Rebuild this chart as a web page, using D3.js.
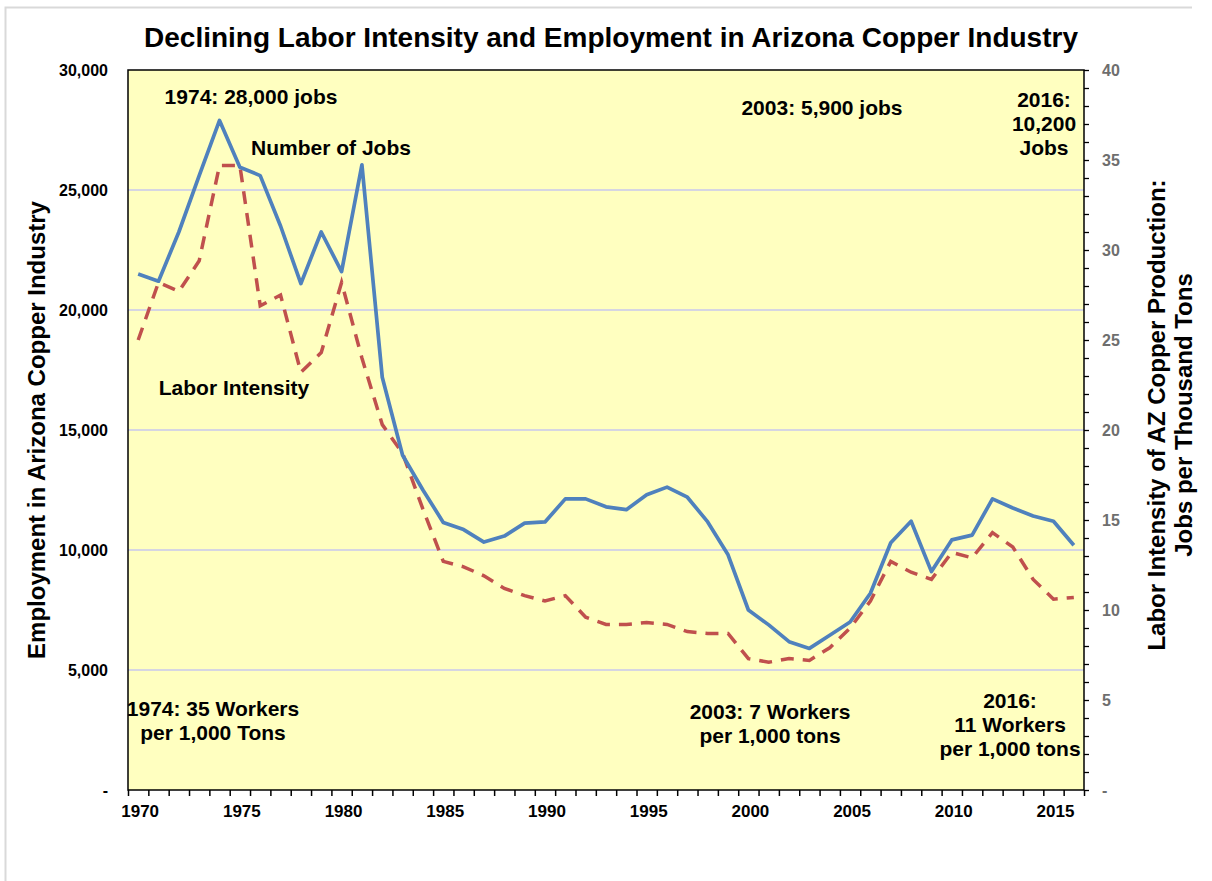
<!DOCTYPE html>
<html>
<head>
<meta charset="utf-8">
<script src="https://cdn.jsdelivr.net/npm/d3@7"></script>
<style>
  body { margin: 0; background: #fff; }
  svg { display: block; font-family: "Liberation Sans", Arial, sans-serif; }
</style>
</head>
<body>
<div class="holder"></div>
<script>
// years 1970..2016
var years = d3.range(1970, 2017)

// number of jobs (left axis)
var jobs = [21500, 21200, 23250, 25600, 27900, 25950, 25600, 23500, 21100, 23250,
  21600, 26050, 17200, 13950, 12500, 11150, 10850, 10330, 10580, 11120,
  11170, 12130, 12130, 11800, 11680, 12300, 12620, 12200, 11170, 9800,
  7500, 6880, 6180, 5900, 6450, 7000, 8200, 10300, 11200, 9100,
  10420, 10620, 12130, 11750, 11420, 11200, 10200]

// labor intensity, jobs per thousand tons (right axis)
var intensity = [25.0, 28.2, 27.7, 29.4, 34.7, 34.7, 26.9, 27.5, 23.2, 24.3,
  28.2, 24.0, 20.3, 18.7, 15.6, 12.7, 12.4, 11.9, 11.2, 10.8,
  10.5, 10.8, 9.6, 9.2, 9.2, 9.3, 9.2, 8.8, 8.7, 8.7,
  7.3, 7.1, 7.3, 7.2, 7.9, 9.0, 10.5, 12.7, 12.1, 11.7,
  13.2, 12.9, 14.3, 13.5, 11.7, 10.6, 10.7]

var leftTicks = [0, 5000, 10000, 15000, 20000, 25000, 30000]
var rightTicks = [0, 5, 10, 15, 20, 25, 30, 35, 40]
var yearLabels = [1970, 1975, 1980, 1985, 1990, 1995, 2000, 2005, 2010, 2015]

var notes = [
  { lines: ['1974: 28,000 jobs'], x: 251, y: 104 },
  { lines: ['Number of Jobs'], x: 331, y: 155 },
  { lines: ['Labor Intensity'], x: 234, y: 395 },
  { lines: ['2003: 5,900 jobs'], x: 822, y: 115 },
  { lines: ['2016:', '10,200', 'Jobs'], x: 1044, y: 107 },
  { lines: ['1974: 35 Workers', 'per 1,000 Tons'], x: 213, y: 716 },
  { lines: ['2003: 7 Workers', 'per 1,000 tons'], x: 770, y: 719 },
  { lines: ['2016:', '11 Workers', 'per 1,000 tons'], x: 1010, y: 708 }
]

var pLeft = 128, pRight = 1084, pTop = 70, pBottom = 790

var chart = d3.select('.holder')
  .append('svg')
  .attr('width', 1212)
  .attr('height', 881)

// outer chart frame
chart.append('path')
  .attr('d', 'M5.5,881V7.5H1192')
  .attr('fill', 'none')
  .attr('stroke', '#d9d9d9')
  .attr('stroke-width', 2)

var xScale = d3.scaleLinear()
  .domain([1969.5, 2016.5])
  .range([pLeft, pRight])

var yLeft = d3.scaleLinear()
  .domain([0, 30000])
  .range([pBottom, pTop])

var yRight = d3.scaleLinear()
  .domain([0, 40])
  .range([pBottom, pTop])

// plot background
chart.append('rect')
  .attr('x', pLeft)
  .attr('y', pTop)
  .attr('width', pRight - pLeft)
  .attr('height', pBottom - pTop)
  .attr('fill', '#ffffc0')

// gridlines
chart.append('g')
  .selectAll('line')
  .data(leftTicks.filter(function(d){ return d > 0 && d < 30000 }))
  .enter()
  .append('line')
  .attr('x1', pLeft)
  .attr('x2', pRight)
  .attr('y1', function(d){ return yLeft(d) })
  .attr('y2', function(d){ return yLeft(d) })
  .attr('stroke', '#d6d6e2')
  .attr('stroke-width', 2)

// plot border
chart.append('rect')
  .attr('x', pLeft)
  .attr('y', pTop)
  .attr('width', pRight - pLeft)
  .attr('height', pBottom - pTop)
  .attr('fill', 'none')
  .attr('stroke', '#000')
  .attr('stroke-width', 1.5)

// x axis: ticks between categories, labels every 5 years
var xAxis = d3.axisBottom(xScale)
  .tickValues(d3.range(1969.5, 2017, 1))
  .tickSize(6)
  .tickFormat('')

chart.append('g')
  .attr('transform', 'translate(0,' + pBottom + ')')
  .call(xAxis)
  .call(function(g){ g.select('.domain').remove() })
  .selectAll('line').attr('stroke', '#000').attr('stroke-width', 1.5)

chart.append('g')
  .selectAll('text')
  .data(yearLabels)
  .enter()
  .append('text')
  .attr('x', function(d){ return xScale(d) + 2 })
  .attr('y', 817)
  .attr('text-anchor', 'middle')
  .style('font-size', '17px')
  .style('font-weight', 'bold')
  .text(function(d){ return d })

// left axis
var yAxisL = d3.axisLeft(yLeft)
  .tickValues(leftTicks)
  .tickSize(0)
  .tickPadding(20)
  .tickFormat(function(d){ return d === 0 ? '-' : d3.format(',')(d) })

chart.append('g')
  .attr('transform', 'translate(' + pLeft + ',0)')
  .call(yAxisL)
  .call(function(g){ g.select('.domain').remove() })
  .selectAll('text')
  .style('font-family', '"Liberation Sans", Arial, sans-serif')
  .style('font-size', '16px')
  .style('font-weight', 'bold')
  .attr('fill', '#000')

// right axis with minor ticks
chart.append('g')
  .attr('transform', 'translate(' + pRight + ',0)')
  .call(d3.axisRight(yRight).tickValues(d3.range(0, 41, 1)).tickSize(5).tickFormat(''))
  .call(function(g){ g.select('.domain').remove() })
  .selectAll('line').attr('stroke', '#000').attr('stroke-width', 1.3)

chart.append('g')
  .attr('transform', 'translate(' + pRight + ',0)')
  .call(d3.axisRight(yRight).tickValues(rightTicks).tickSize(0).tickPadding(18)
    .tickFormat(function(d){ return d === 0 ? '-' : d }))
  .call(function(g){ g.select('.domain').remove() })
  .selectAll('text')
  .style('font-family', '"Liberation Sans", Arial, sans-serif')
  .style('font-size', '16px')
  .style('font-weight', 'bold')
  .attr('fill', '#6e6e6e')

// series
var jobsLine = d3.line()
  .x(function(d, i){ return xScale(years[i]) })
  .y(function(d){ return yLeft(d) })

var intLine = d3.line()
  .x(function(d, i){ return xScale(years[i]) })
  .y(function(d){ return yRight(d) })

chart.append('path')
  .datum(intensity)
  .attr('d', intLine)
  .attr('fill', 'none')
  .attr('stroke', '#c0504d')
  .attr('stroke-width', 3.5)
  .attr('stroke-dasharray', '13,9')

chart.append('path')
  .datum(jobs)
  .attr('d', jobsLine)
  .attr('fill', 'none')
  .attr('stroke', '#4f81bd')
  .attr('stroke-width', 3.7)
  .attr('stroke-linejoin', 'round')

// annotations
notes.forEach(function(n){
  var t = chart.append('text')
    .attr('text-anchor', 'middle')
    .style('font-size', '21px')
    .style('font-weight', 'bold')
  n.lines.forEach(function(s, i){
    t.append('tspan')
      .attr('x', n.x)
      .attr('y', n.y + i * 24)
      .text(s)
  })
})

// title
chart.append('text')
  .attr('x', 611)
  .attr('y', 47)
  .attr('text-anchor', 'middle')
  .style('font-size', '28px')
  .style('font-weight', 'bold')
  .text('Declining Labor Intensity and Employment in Arizona Copper Industry')

// axis titles
chart.append('text')
  .attr('transform', 'translate(45,430) rotate(-90)')
  .attr('text-anchor', 'middle')
  .style('font-size', '24px')
  .style('font-weight', 'bold')
  .text('Employment in Arizona Copper Industry')

var rt = chart.append('text')
  .attr('transform', 'translate(1165,415) rotate(-90)')
  .attr('text-anchor', 'middle')
  .style('font-size', '24px')
  .style('font-weight', 'bold')
rt.append('tspan').attr('x', 0).attr('y', 0).text('Labor Intensity of AZ Copper Production:')
rt.append('tspan').attr('x', 0).attr('y', 27).text('Jobs per Thousand Tons')
</script>
</body>
</html>
